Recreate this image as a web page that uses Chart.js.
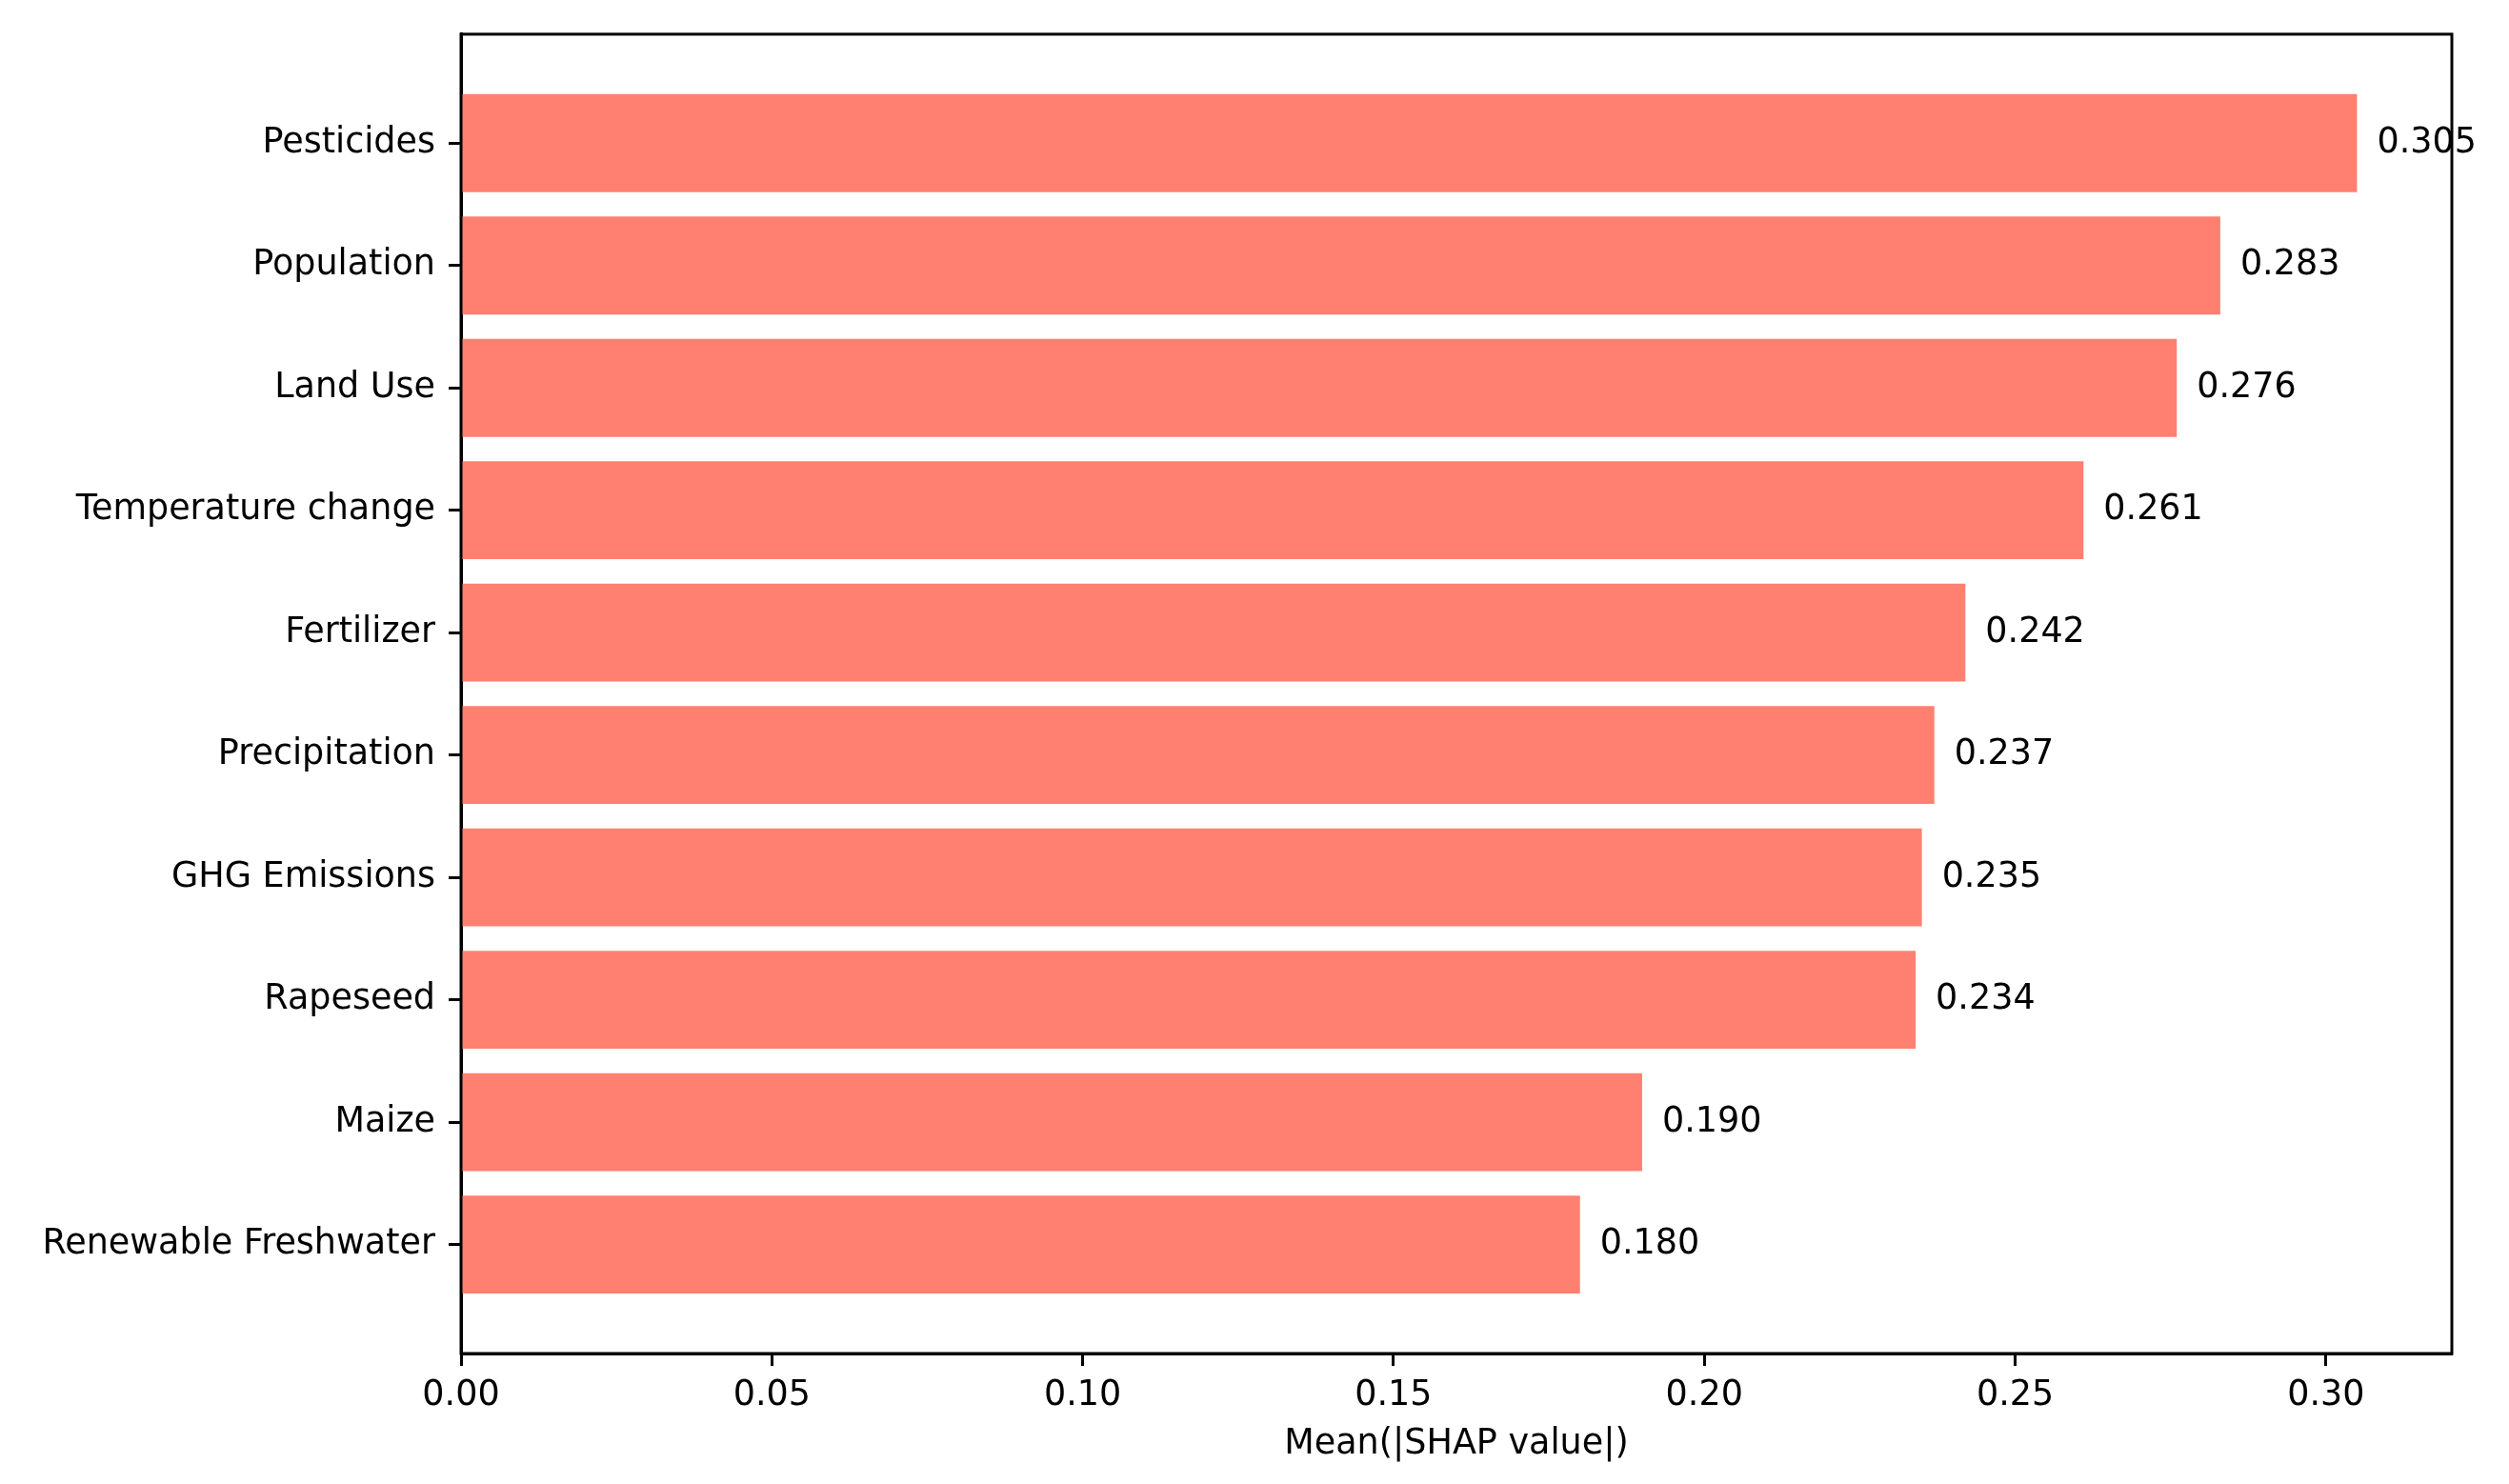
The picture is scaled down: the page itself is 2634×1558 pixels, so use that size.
<!DOCTYPE html>
<html>
<head>
<meta charset="utf-8">
<script src="https://cdn.jsdelivr.net/npm/chart.js@4.4.1/dist/chart.umd.min.js"></script>
<style>
  html, body { margin: 0; padding: 0; background: #ffffff; }
  #wrap { width: 2634px; height: 1558px; position: relative; }
</style>
</head>
<body>
<div id="wrap"><canvas id="c"></canvas></div>
<script>
const categories = ["Pesticides", "Population", "Land Use", "Temperature change", "Fertilizer",
  "Precipitation", "GHG Emissions", "Rapeseed", "Maize", "Renewable Freshwater"];
const values = [0.305, 0.283, 0.276, 0.261, 0.242, 0.237, 0.235, 0.234, 0.190, 0.180];
const xTickValues = [0.00, 0.05, 0.10, 0.15, 0.20, 0.25, 0.30];
const xLabel = "Mean(|SHAP value|)";

const FONT = "'DejaVu Sans', sans-serif";
const FSIZE = 36.5;
const BAR_COLOR = "rgb(255,128,112)";
const LINE_W = 3;

const points = values.map((v, i) => ({ x: v, y: i }));

const frameAndLabels = {
  id: 'frameAndLabels',
  afterDatasetsDraw(chart) {
    const ctx = chart.ctx;
    const meta = chart.getDatasetMeta(0);
    ctx.save();
    ctx.font = FSIZE + "px " + FONT;
    ctx.fillStyle = "#000";
    ctx.textAlign = "left";
    ctx.textBaseline = "middle";
    meta.data.forEach((bar, i) => {
      ctx.fillText(values[i].toFixed(3), bar.x + 21, bar.y);
    });
    const a = chart.chartArea;
    ctx.strokeStyle = "#000";
    ctx.lineWidth = LINE_W;
    ctx.strokeRect(a.left, a.top, a.right - a.left, a.bottom - a.top);
    ctx.restore();
  }
};

new Chart(document.getElementById('c'), {
  type: 'bar',
  data: {
    datasets: [{
      data: points,
      backgroundColor: BAR_COLOR,
      borderWidth: 0,
      barPercentage: 0.8,
      categoryPercentage: 1.0
    }]
  },
  options: {
    indexAxis: 'y',
    responsive: true,
    maintainAspectRatio: false,
    animation: false,
    events: [],
    layout: { padding: { left: 0, right: 60, top: 30, bottom: 0 } },
    plugins: { legend: { display: false }, tooltip: { enabled: false }, title: { display: false } },
    scales: {
      x: {
        type: 'linear',
        position: 'bottom',
        min: 0,
        max: 0.32025,
        offset: false,
        afterBuildTicks(scale) { scale.ticks = xTickValues.map(v => ({ value: v })); },
        afterFit(scale) { scale.height = 137; },
        ticks: {
          font: { family: FONT, size: FSIZE },
          color: '#000',
          padding: 10,
          maxRotation: 0,
          callback: (v) => Number(v).toFixed(2)
        },
        grid: { offset: false, drawOnChartArea: false, drawTicks: true, tickLength: 13, tickWidth: LINE_W, tickColor: '#000' },
        border: { display: true, color: '#000', width: LINE_W },
        title: {
          display: true,
          text: xLabel,
          color: '#000',
          font: { family: FONT, size: FSIZE },
          padding: { top: 0, bottom: 20 }
        }
      },
      y: {
        type: 'linear',
        reverse: true,
        min: -0.89,
        max: 9.89,
        offset: false,
        afterBuildTicks(scale) { scale.ticks = categories.map((_, i) => ({ value: i })); },
        afterFit(scale) { scale.width = 484; },
        ticks: {
          font: { family: FONT, size: FSIZE },
          color: '#000',
          padding: 14,
          callback: (v) => categories[v] !== undefined ? categories[v] : ''
        },
        grid: { offset: false, drawOnChartArea: false, drawTicks: true, tickLength: 13, tickWidth: LINE_W, tickColor: '#000' },
        border: { display: true, color: '#000', width: LINE_W }
      }
    }
  },
  plugins: [frameAndLabels]
});
</script>
</body>
</html>
